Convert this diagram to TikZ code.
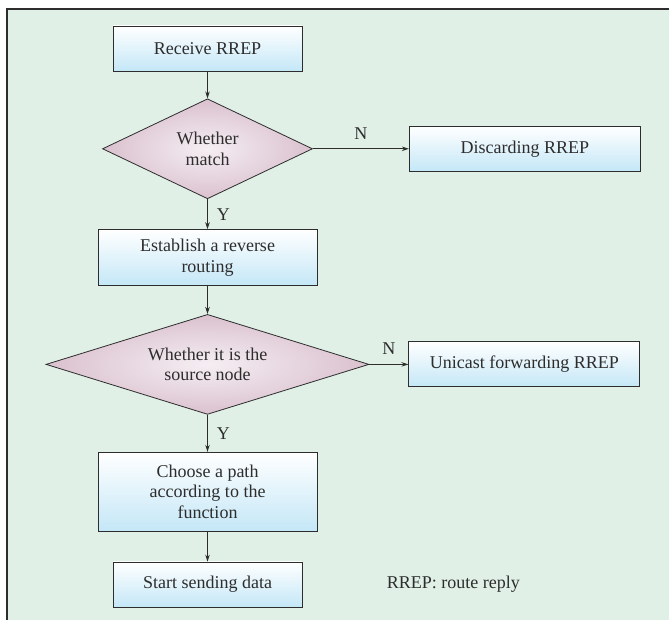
\documentclass[tikz,border=0pt]{standalone}
\usepackage{fontspec}
\setmainfont{Liberation Serif}
\usepackage{tikz}
\usetikzlibrary{arrows.meta}
\usetikzlibrary{arrows, shapes.geometric, positioning}

\definecolor{panel}{RGB}{224,240,230}
\definecolor{boxblue}{RGB}{196,231,247}
\definecolor{diaout}{RGB}{218,193,206}
\definecolor{diain}{RGB}{245,238,243}
\definecolor{ink}{RGB}{45,45,45}

\begin{document}
\begin{tikzpicture}[x=1pt,y=1pt,->,>={Stealth[length=7pt,width=4.5pt]},auto,line width=0.8pt,color=ink,
        font=\fontsize{18}{20.5}\selectfont,
        proc node/.style={rectangle,draw,top color=white,bottom color=boxblue,align=center,inner sep=0pt,minimum height=45pt},
        test node/.style={diamond,draw,inner color=diain,outer color=diaout,align=center,inner sep=0pt,minimum height=100pt},
        flag/.style={inner sep=9pt}]

        \useasboundingbox (0,0) rectangle (669,620);
        \fill[panel] (7,0) rectangle (669,611);
        \draw[-,line width=1.2pt] (7,0) -- (7,611) -- (669,611);

        \node[proc node,minimum width=189pt] (recv) at (207.5,571.5) {Receive RREP};
        \node[test node,shape aspect=2.1,minimum width=210pt,below=27pt of recv]  (match) {Whether\\match};
        \node[proc node,minimum width=231pt,right=96pt of match] (drop)  {Discarding RREP};
        \node[proc node,minimum width=219pt,minimum height=56pt,below=30pt of match] (rev) {Establish a reverse\\routing};
        \node[test node,shape aspect=3.2,minimum width=323pt,below=28pt of rev]   (src)   {Whether it is the\\source node};
        \node[proc node,minimum width=231pt,right=39pt of src]   (fwd)   {Unicast forwarding RREP};
        \node[proc node,minimum width=219pt,minimum height=79pt,below=37pt of src] (path) {Choose a path\\according to the\\function};
        \node[proc node,minimum width=189pt,below=30pt of path]  (send)  {Start sending data};
        \node[inner sep=0pt,right=84pt of send]                  (note)  {RREP: route reply};

          \path
            (recv)  edge                   (match)
            (match) edge    node[flag] {N} (drop)
                    edge    node[flag] {Y} (rev)
            (rev)   edge                   (src)
            (src)   edge    node[flag] {N} (fwd)
                    edge    node[flag] {Y} (path)
            (path)  edge                   (send);
        \end{tikzpicture}
\end{document}
